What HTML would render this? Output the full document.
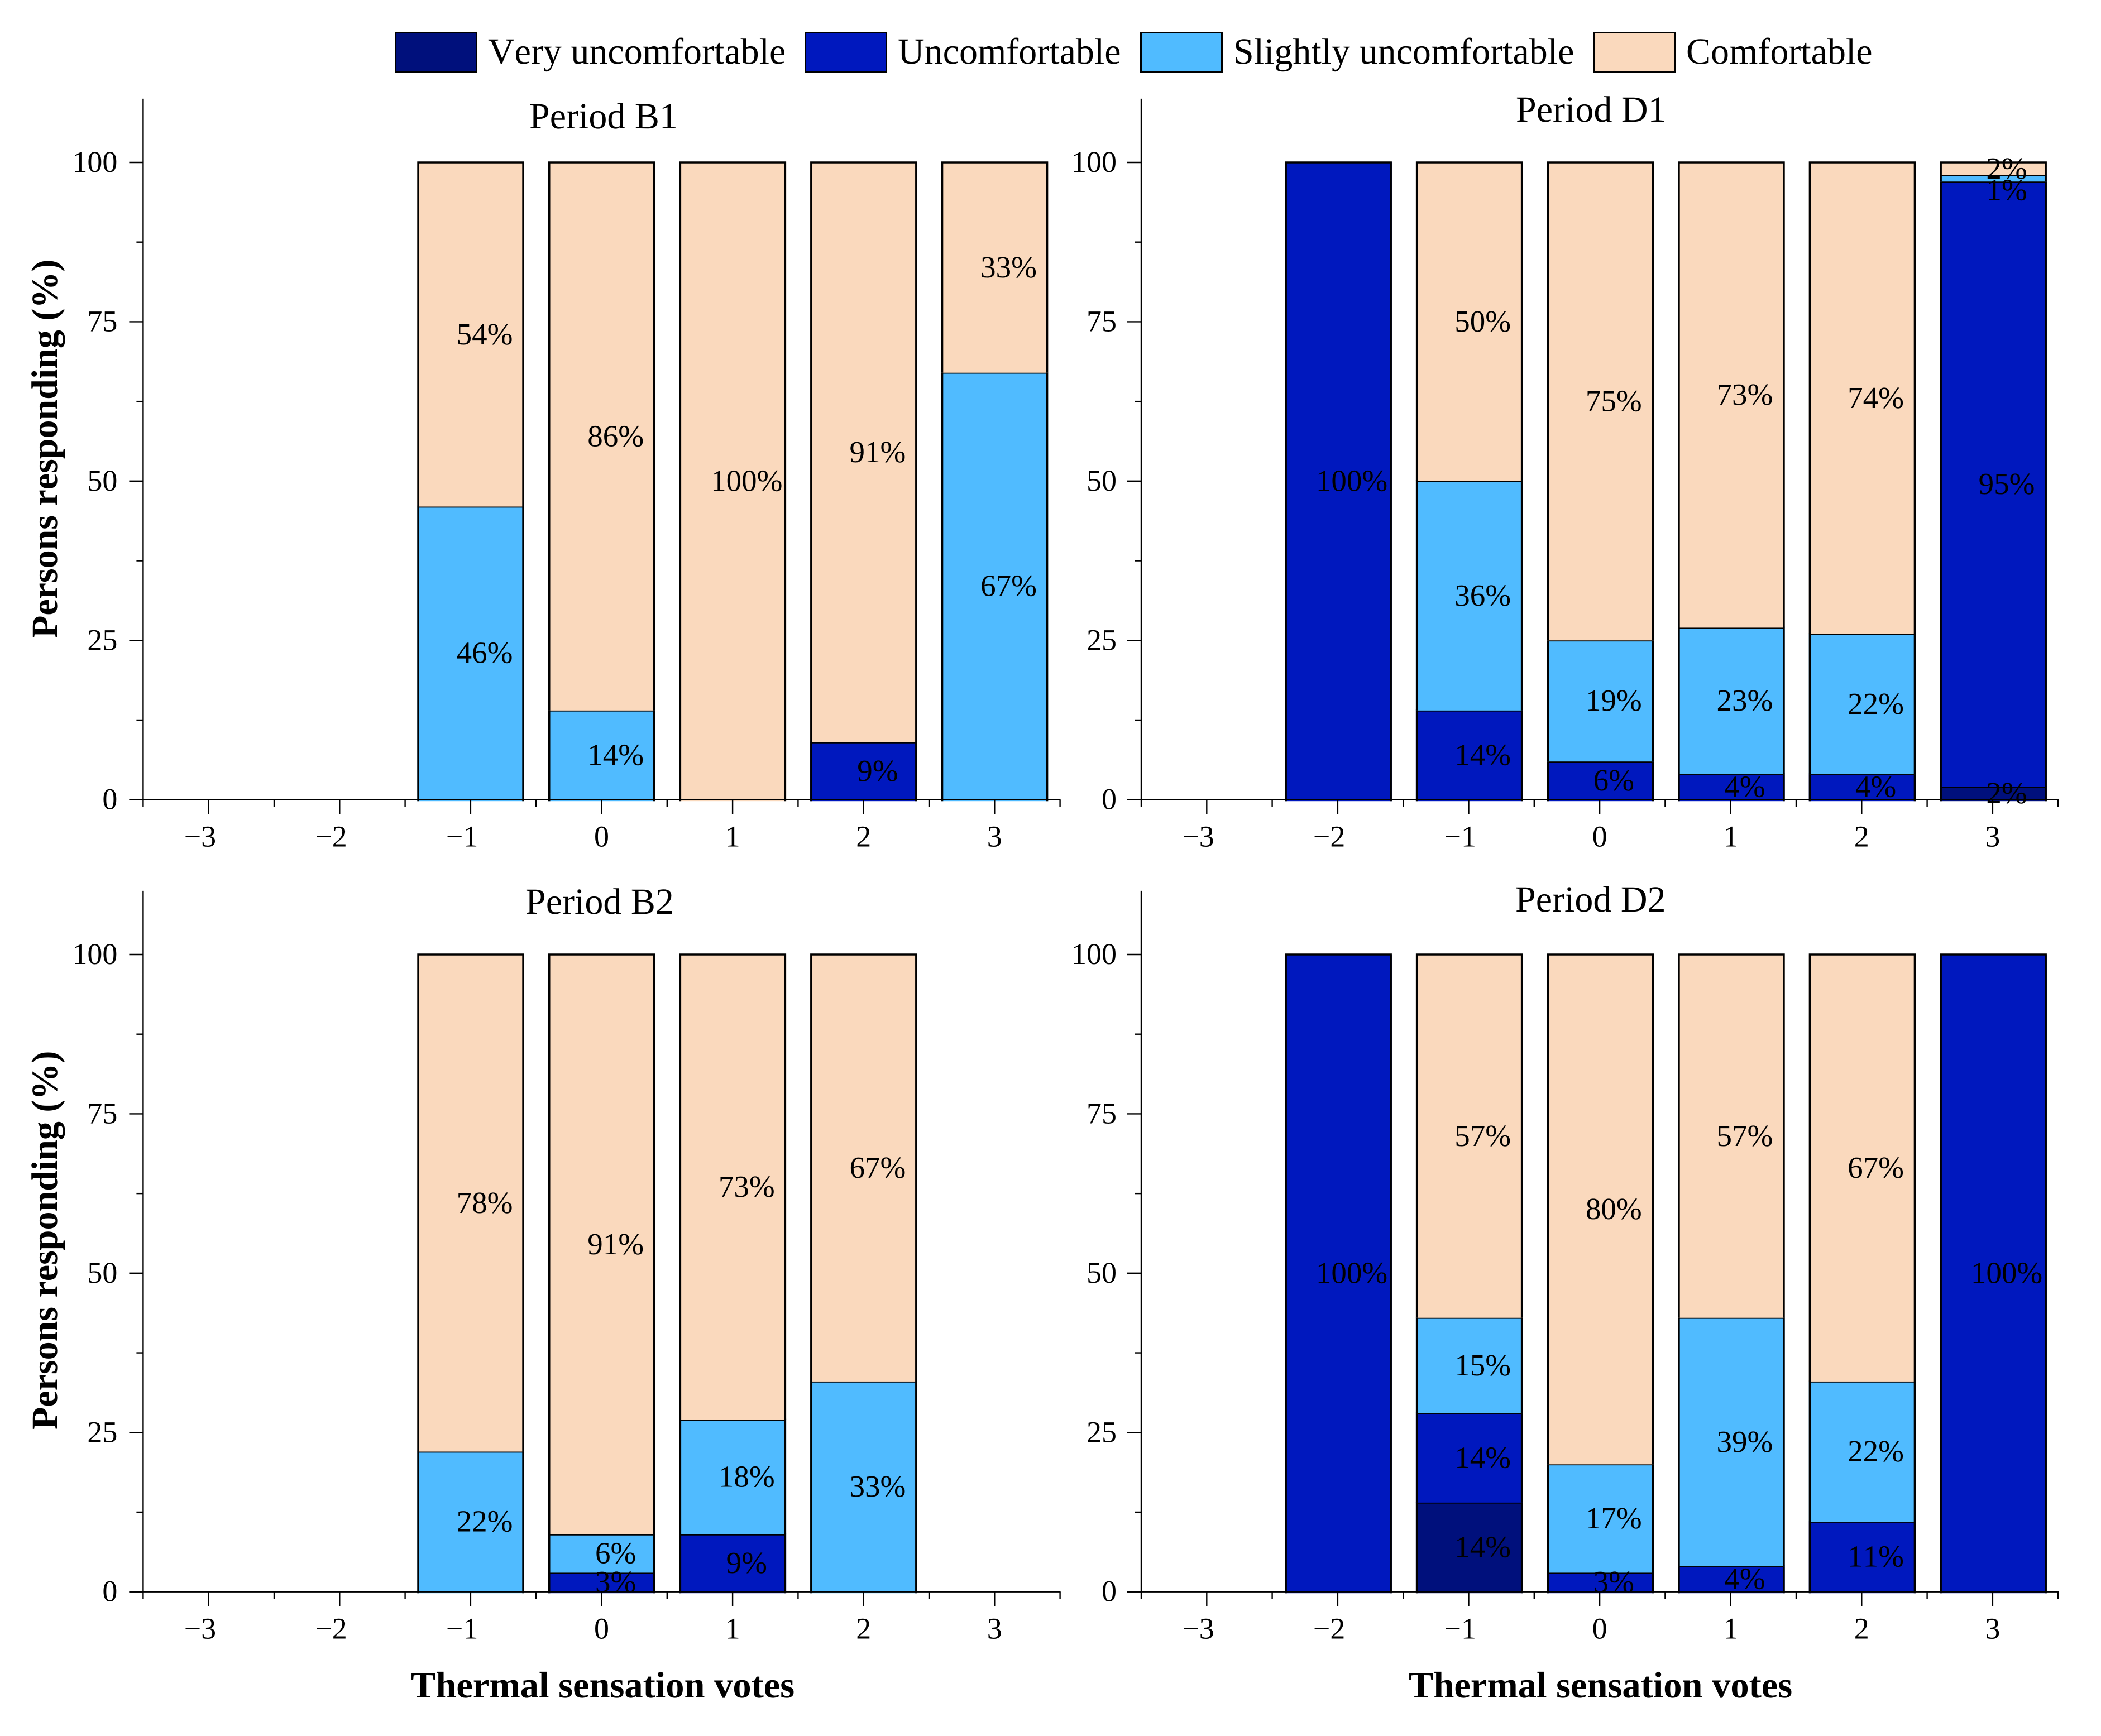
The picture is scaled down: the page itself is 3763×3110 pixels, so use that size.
<!DOCTYPE html>
<html lang="en">
<head>
<meta charset="utf-8">
<title>Thermal comfort by thermal sensation votes</title>
<style>
html,body{margin:0;padding:0;background:#fff;}
svg{display:block;}
text{font-family:"Liberation Serif",serif;fill:#000;font-kerning:none;text-rendering:geometricPrecision;}
.legend-text,.title-text{font-size:66px;}
.axis-title{font-size:66px;font-weight:bold;}
.x-title{font-size:66.5px;}
.tick-text{font-size:54px;}
.value-text{font-size:55px;}
</style>
</head>
<body>
<svg id="chart" xmlns="http://www.w3.org/2000/svg" width="3763" height="3110" viewBox="0 0 3763 3110">
  <rect x="0" y="0" width="3763" height="3110" fill="#ffffff"/>
  <g id="panels"></g>

  <g>
    <g>
      <rect x="708.5" y="58.5" width="145" height="70" fill="#00107C" stroke="#000" stroke-width="3"/>
      <text class="legend-text" x="874" y="114">Very uncomfortable</text>
    </g>
    <g>
      <rect x="1442.5" y="58.5" width="145" height="70" fill="#0018BE" stroke="#000" stroke-width="3"/>
      <text class="legend-text" x="1608" y="114">Uncomfortable</text>
    </g>
    <g>
      <rect x="2043.5" y="58.5" width="145" height="70" fill="#50BBFF" stroke="#000" stroke-width="3"/>
      <text class="legend-text" x="2209" y="114">Slightly uncomfortable</text>
    </g>
    <g>
      <rect x="2855" y="58.5" width="145" height="70" fill="#FAD9BD" stroke="#000" stroke-width="3"/>
      <text class="legend-text" x="3020" y="114">Comfortable</text>
    </g>
  </g>

  <text class="title-text" x="948" y="230">Period B1</text>
  <text class="title-text" x="2715" y="218">Period D1</text>
  <text class="title-text" x="941" y="1637">Period B2</text>
  <text class="title-text" x="2714" y="1633">Period D2</text>

  <text class="axis-title" transform="translate(102 1143) rotate(-90)">Persons responding (%)</text>
  <text class="axis-title" transform="translate(102 2561) rotate(-90)">Persons responding (%)</text>
  <text class="axis-title x-title" x="736" y="3041">Thermal sensation votes</text>
  <text class="axis-title x-title" x="2523" y="3041">Thermal sensation votes</text>
</svg>

<script>
const categories = [-3, -2, -1, 0, 1, 2, 3];
const xTickLabels = ['\u22123', '\u22122', '\u22121', '0', '1', '2', '3'];
const yTicks = [0, 25, 50, 75, 100];
const yMinorTicks = [12.5, 37.5, 62.5, 87.5];
const seriesNames = ['very-uncomfortable', 'uncomfortable', 'slightly-uncomfortable', 'comfortable'];
const seriesColors = ['#00107C', '#0018BE', '#50BBFF', '#FAD9BD'];

const b1Very = [0, 0, 0, 0, 0, 0, 0];
const b1Uncomfortable = [0, 0, 0, 0, 0, 9, 0];
const b1Slightly = [0, 0, 46, 14, 0, 0, 67];
const b1Comfortable = [0, 0, 54, 86, 100, 91, 33];

const d1Very = [0, 0, 0, 0, 0, 0, 2];
const d1Uncomfortable = [0, 100, 14, 6, 4, 4, 95];
const d1Slightly = [0, 0, 36, 19, 23, 22, 1];
const d1Comfortable = [0, 0, 50, 75, 73, 74, 2];

const b2Very = [0, 0, 0, 0, 0, 0, 0];
const b2Uncomfortable = [0, 0, 0, 3, 9, 0, 0];
const b2Slightly = [0, 0, 22, 6, 18, 33, 0];
const b2Comfortable = [0, 0, 78, 91, 73, 67, 0];

const d2Very = [0, 0, 14, 0, 0, 0, 0];
const d2Uncomfortable = [0, 100, 14, 3, 4, 11, 100];
const d2Slightly = [0, 0, 15, 17, 39, 22, 0];
const d2Comfortable = [0, 0, 57, 80, 57, 67, 0];

const SVG_NS = 'http://www.w3.org/2000/svg';
const root = document.getElementById('panels');

const yScaleFactor = 11.417;
const xStep = 234.6;
const barWidth = 188;
const axisStroke = 2.4;
const barStroke = 3.6;
const thinLabelDrop = 1.9;

function make(tag, attrs, parent) {
  const node = document.createElementNS(SVG_NS, tag);
  for (const key in attrs) node.setAttribute(key, attrs[key]);
  parent.appendChild(node);
  return node;
}

function drawPanel(panelId, left, zeroY, yLabelGap, barShift, series) {
  const yOf = function (v) { return zeroY - v * yScaleFactor; };
  const xOf = function (position) { return left + (position + 3.5) * xStep; };

  const panel = make('g', {}, root);
  
  

  const bars = make('g', {}, panel);
  
  

  const pending = [];
  categories.forEach(function (category, i) {
    let base = 0;
    const cx = xOf(category) + barShift;
    let first = true;
    series.forEach(function (values, s) {
      const value = values[i];
      if (!value) return;
      const yBottom = yOf(base);
      const yTop = yOf(base + value);
      const x0 = cx - barWidth / 2;
      const x1 = cx + barWidth / 2;

      const fill = make('rect', {
        x: x0 - barStroke / 2,
        y: yTop,
        width: barWidth + barStroke,
        height: (yBottom - yTop) + (first ? 2.5 : 0),
        fill: seriesColors[s]
      }, bars);
      
      

      const outline = make('path', {
        d: 'M' + x0 + ' ' + (yBottom + (first ? 2.5 : 0)) + 'L' + x0 + ' ' + yTop + 'L' + x1 + ' ' + yTop + 'L' + x1 + ' ' + (yBottom + (first ? 2.5 : 0)),
        fill: 'none',
        stroke: '#000',
        'stroke-width': barStroke
      }, bars);
      
      

      const center = base + value / 2 - (value <= 1 ? thinLabelDrop : 0);
      pending.push({ x: xOf(category) + 25.2, y: yOf(center) + 17.5, text: value + '%', name: panelId + '-' + category + '-' + seriesNames[s] });
      base += value;
      first = false;
    });
  });

  const axes = make('g', {}, panel);
  
  

  const yAxis = make('line', { x1: left, x2: left, y1: yOf(110), y2: zeroY, stroke: '#000', 'stroke-width': axisStroke }, axes);
  
  

  const xAxis = make('line', { x1: left - 25, x2: xOf(3.5) + 1, y1: zeroY, y2: zeroY, stroke: '#000', 'stroke-width': axisStroke }, axes);
  
  

  yTicks.forEach(function (tick) {
    const y = yOf(tick);
    const mark = make('line', { x1: left - 25, x2: left, y1: y, y2: y, stroke: '#000', 'stroke-width': axisStroke }, axes);
    
    

    const label = make('text', { x: left - yLabelGap, y: y + 17, 'text-anchor': 'end', class: 'tick-text' }, axes);
    label.textContent = String(tick);
    
    
  });

  yMinorTicks.forEach(function (tick) {
    const y = yOf(tick);
    const mark = make('line', { x1: left - 12, x2: left, y1: y, y2: y, stroke: '#000', 'stroke-width': axisStroke }, axes);
    
    
  });

  categories.forEach(function (category, i) {
    const x = xOf(category);
    const mark = make('line', { x1: x, x2: x, y1: zeroY, y2: zeroY + 26, stroke: '#000', 'stroke-width': axisStroke }, axes);
    
    

    const label = make('text', { x: x + 13.5, y: zeroY + 84, 'text-anchor': 'end', class: 'tick-text' }, axes);
    label.textContent = xTickLabels[i];
    
    
  });

  for (let m = 0; m < categories.length + 1; m++) {
    const x = xOf(categories[0] - 0.5 + m);
    const mark = make('line', { x1: x, x2: x, y1: zeroY, y2: zeroY + 13, stroke: '#000', 'stroke-width': axisStroke }, axes);
    
    
  }

  const labels = make('g', {}, panel);
  
  
  pending.forEach(function (item) {
    const label = make('text', { x: item.x, y: item.y, 'text-anchor': 'middle', class: 'value-text' }, labels);
    label.textContent = item.text;
    
    
  });
}

drawPanel('b1', 256.4, 1432.7, 46, 0.2, [b1Very, b1Uncomfortable, b1Slightly, b1Comfortable]);
drawPanel('d1', 2044, 1432.7, 44, 1.2, [d1Very, d1Uncomfortable, d1Slightly, d1Comfortable]);
drawPanel('b2', 256.4, 2851.7, 46, 0.2, [b2Very, b2Uncomfortable, b2Slightly, b2Comfortable]);
drawPanel('d2', 2044, 2851.7, 44, 1.2, [d2Very, d2Uncomfortable, d2Slightly, d2Comfortable]);
</script>
</body>
</html>
